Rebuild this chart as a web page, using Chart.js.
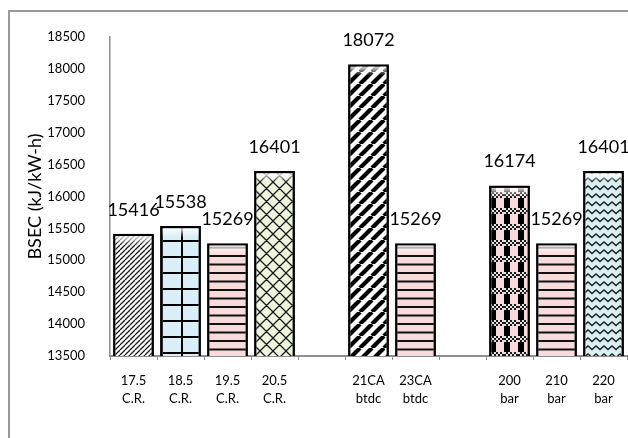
<!DOCTYPE html>
<html>
<head>
<meta charset="utf-8">
<script src="https://cdn.jsdelivr.net/npm/chart.js@4"></script>
<style>
  html, body { margin: 0; padding: 0; background: #ffffff; }
  canvas { display: block; }
</style>
</head>
<body>
<canvas id="c" width="628" height="438"></canvas>
<script>
// Brake specific energy consumption per operating setting (blank slots separate the groups)
const categories = [
  ["17.5", "C.R."], ["18.5", "C.R."], ["19.5", "C.R."], ["20.5", "C.R."],
  "",
  ["21CA", "btdc"], ["23CA", "btdc"],
  "",
  ["200", "bar"], ["210", "bar"], ["220", "bar"]
];
const bsecValues = [15416, 15538, 15269, 16401, null, 18072, 15269, null, 16174, 15269, 16401];
const yAxisMin = 13500;
const yAxisMax = 18500;
const yAxisStep = 500;
const fillKinds = ["diagFine", "grid", "stripes", "lattice", null, "diagBold", "stripes", null, "plaid", "stripes", "wave"];

// ---- hatch fills -------------------------------------------------------
function makeTile(w, h, paint) {
  const c = document.createElement("canvas");
  c.width = w; c.height = h;
  paint(c.getContext("2d"), w, h);
  return c;
}
function diagonal(g, w, h, width, color) {
  g.strokeStyle = color; g.lineWidth = width; g.beginPath();
  for (let k = -1; k <= 1; k++) { g.moveTo(k * w, h); g.lineTo(k * w + w, 0); }
  g.stroke();
}
const painters = {
  diagFine: [5, 5, (g, w, h) => { g.fillStyle = "#ffffff"; g.fillRect(0, 0, w, h); diagonal(g, w, h, 1.3, "#1a1a1a"); }],
  diagBold: [12, 12, (g, w, h) => { g.fillStyle = "#ffffff"; g.fillRect(0, 0, w, h); diagonal(g, w, h, 4.2, "#000000"); }],
  grid: [20, 16, (g, w, h) => {
    g.fillStyle = "#d9eef6"; g.fillRect(0, 0, w, h);
    g.fillStyle = "#000000"; g.fillRect(1, 0, 2, h); g.fillRect(0, 0, w, 2);
  }],
  stripes: [8, 17, (g, w, h) => {
    g.fillStyle = "#f8dcdc"; g.fillRect(0, 0, w, h);
    g.fillStyle = "#111111"; g.fillRect(0, 0, w, 2); g.fillRect(0, 8.5, w, 2);
  }],
  lattice: [13, 13, (g, w, h) => {
    g.fillStyle = "#eef5dd"; g.fillRect(0, 0, w, h);
    g.strokeStyle = "#1a1a1a"; g.lineWidth = 1.3; g.beginPath();
    for (let k = -1; k <= 1; k++) {
      g.moveTo(k * w, 0); g.lineTo(k * w + w, h);
      g.moveTo(k * w, h); g.lineTo(k * w + w, 0);
    }
    g.stroke();
  }],
  plaid: [14, 16, (g, w, h) => {
    g.fillStyle = "#f7dada"; g.fillRect(0, 0, w, h);
    g.fillStyle = "#000000"; g.fillRect(0, 0, 6, h);
    for (let x = 0; x < w; x += 2) {
      for (let y = 0; y < 6; y += 2) {
        g.fillStyle = ((x + y) / 2) % 2 ? "#1a1a1a" : "#e8e0e0";
        g.fillRect(x, y, 2, 2);
      }
    }
  }],
  wave: [8, 8, (g, w, h) => {
    g.fillStyle = "#d9f0f3"; g.fillRect(0, 0, w, h);
    g.strokeStyle = "#222222"; g.lineWidth = 1.4; g.beginPath();
    g.moveTo(-4, 2); g.lineTo(0, 5.5); g.lineTo(4, 2); g.lineTo(8, 5.5); g.lineTo(12, 2);
    g.stroke();
  }]
};
const ctx = document.getElementById("c").getContext("2d");
const patternCache = {};
function fillFor(kind) {
  if (!kind) return "rgba(0,0,0,0)";
  if (!patternCache[kind]) {
    const [w, h, paint] = painters[kind];
    patternCache[kind] = ctx.createPattern(makeTile(w, h, paint), "repeat");
  }
  return patternCache[kind];
}

// ---- plugins -----------------------------------------------------------
const frame = {
  id: "frame",
  beforeDraw(chart) {
    const c = chart.ctx;
    c.save();
    c.strokeStyle = "#9a9a9a"; c.lineWidth = 2;
    c.strokeRect(9, 11, 800, 800);
    c.restore();
  }
};
const barShadow = {
  id: "barShadow",
  beforeDatasetDraw(chart) {
    const c = chart.ctx;
    c.save();
    c.shadowColor = "rgba(0,0,0,0.35)";
    c.shadowOffsetX = 2; c.shadowOffsetY = 2; c.shadowBlur = 2;
  },
  afterDatasetDraw(chart) {
    const c = chart.ctx;
    c.restore();
    // soft sheen along the top of every bar
    const meta = chart.getDatasetMeta(0);
    const data = chart.data.datasets[0].data;
    c.save();
    meta.data.forEach((bar, i) => {
      if (data[i] == null) return;
      const half = bar.width / 2 - 2.5;
      const top = bar.y + 2.5;
      const grad = c.createLinearGradient(0, top, 0, top + 9);
      grad.addColorStop(0, "rgba(255,255,255,0.85)");
      grad.addColorStop(1, "rgba(255,255,255,0)");
      c.fillStyle = grad;
      c.fillRect(bar.x - half, top, half * 2, 9);
    });
    c.restore();
  }
};
const valueLabels = {
  id: "valueLabels",
  afterDatasetsDraw(chart, args, opts) {
    const c = chart.ctx;
    const meta = chart.getDatasetMeta(0);
    const data = chart.data.datasets[0].data;
    c.save();
    c.font = opts.font; c.fillStyle = opts.color;
    c.textAlign = "center"; c.textBaseline = "middle";
    meta.data.forEach((bar, i) => {
      if (data[i] == null) return;
      c.fillText(String(data[i]), bar.x, bar.y - opts.gap);
    });
    c.restore();
  }
};

new Chart(ctx, {
  type: "bar",
  data: {
    labels: categories,
    datasets: [{
      data: bsecValues,
      backgroundColor: fillKinds.map(fillFor),
      borderColor: "#000000",
      borderWidth: 2.5,
      barPercentage: 0.87,
      categoryPercentage: 1.0
    }]
  },
  plugins: [frame, barShadow, valueLabels],
  options: {
    responsive: false,
    animation: false,
    layout: { padding: { top: 37, right: 1, left: 0, bottom: 0 } },
    plugins: {
      legend: { display: false },
      tooltip: { enabled: false },
      valueLabels: { font: "18px Lato", color: "#000000", gap: 24 }
    },
    scales: {
      x: {
        offset: true,
        grid: { display: true, drawOnChartArea: false, drawTicks: true, tickLength: 4, color: "#8e8e8e", offset: true },
        border: { display: true, color: "#8e8e8e", width: 2 },
        ticks: { color: "#000000", font: { family: "Lato", size: 13, lineHeight: 1.45 }, padding: 11, maxRotation: 0, autoSkip: false },
        afterFit(scale) { scale.height = 82; }
      },
      y: {
        min: yAxisMin,
        max: yAxisMax,
        grid: { display: false },
        border: { display: true, color: "#8e8e8e", width: 1.5 },
        ticks: { stepSize: yAxisStep, color: "#000000", font: { family: "Lato", size: 13 }, padding: 17, callback: v => String(v) },
        title: { display: true, text: "BSEC (kJ/kW-h)", color: "#000000", font: { family: "Lato", size: 18 }, padding: { top: 24, bottom: 0 } },
        afterFit(scale) { scale.width = 110; }
      }
    }
  }
});
</script>
</body>
</html>
